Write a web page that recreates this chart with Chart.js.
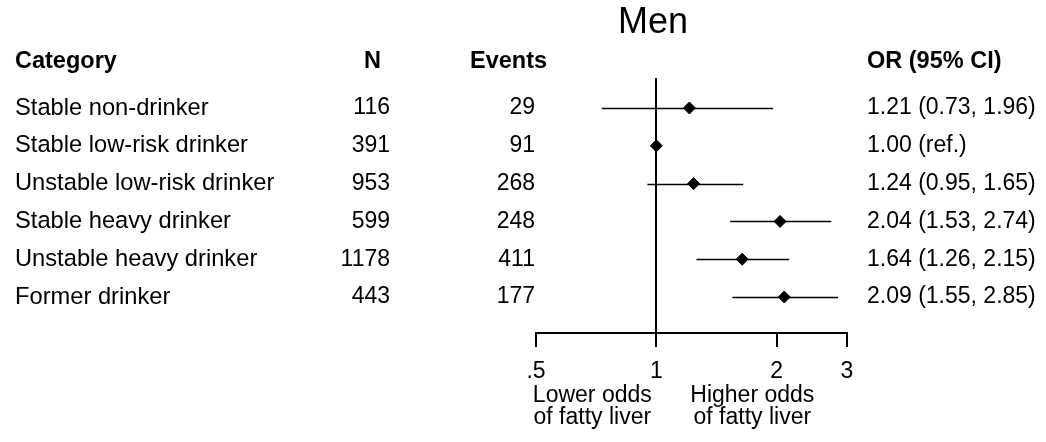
<!DOCTYPE html>
<html>
<head>
<meta charset="utf-8">
<script src="https://cdn.jsdelivr.net/npm/chart.js@4.4.0/dist/chart.umd.min.js"></script>
<style>
  html, body { margin: 0; padding: 0; background: #fff; }
  #wrap { width: 1046px; height: 442px; position: relative; }
</style>
</head>
<body>
<div id="wrap"><canvas id="myChart"></canvas></div>
<script>

const categories = [
  'Stable non-drinker',
  'Stable low-risk drinker',
  'Unstable low-risk drinker',
  'Stable heavy drinker',
  'Unstable heavy drinker',
  'Former drinker',
];
const nCounts = [116, 391, 953, 599, 1178, 443];
const events = [29, 91, 268, 248, 411, 177];
const oddsRatios = [1.21, 1.00, 1.24, 2.04, 1.64, 2.09];
const ciLower = [0.73, null, 0.95, 1.53, 1.26, 1.55];
const ciUpper = [1.96, null, 1.65, 2.74, 2.15, 2.85];
const xTicks = [0.5, 1, 2, 3];
const headers = ['Category', 'N', 'Events', 'OR (95% CI)'];
const chartTitle = 'Men';
const lowerNote = ['Lower odds', 'of fatty liver'];
const higherNote = ['Higher odds', 'of fatty liver'];

const FONT = '"Liberation Sans", Arial, Helvetica, sans-serif';

function orText(i) {
  if (ciLower[i] == null) return oddsRatios[i].toFixed(2) + ' (ref.)';
  return oddsRatios[i].toFixed(2) + ' (' + ciLower[i].toFixed(2) + ', ' + ciUpper[i].toFixed(2) + ')';
}

// whiskers + table columns, drawn with the chart's own scales
const forestPlugin = {
  id: 'forestPlugin',
  beforeDatasetsDraw(chart) {
    const {ctx, scales: {x, y}} = chart;
    ctx.save();
    ctx.strokeStyle = '#000';
    ctx.lineWidth = 1.6;
    oddsRatios.forEach((v, i) => {
      if (ciLower[i] == null) return;
      const py = Math.round(y.getPixelForValue(i + 1)) + 0.5;
      ctx.beginPath();
      ctx.moveTo(x.getPixelForValue(ciLower[i]), py);
      ctx.lineTo(x.getPixelForValue(ciUpper[i]), py);
      ctx.stroke();
    });
    ctx.restore();
  },
  afterDraw(chart) {
    const {ctx, scales: {x, y}} = chart;
    ctx.save();
    ctx.fillStyle = '#000';
    ctx.textBaseline = 'middle';

    // title
    ctx.font = '36px ' + FONT;
    ctx.textAlign = 'center';
    ctx.fillText(chartTitle, 653, 23);

    // header row
    const hy = 62;
    ctx.font = 'bold 23.5px ' + FONT;
    ctx.textAlign = 'left';
    ctx.fillText(headers[0], 15, hy);
    ctx.textAlign = 'right';
    ctx.fillText(headers[1], 381, hy);
    ctx.textAlign = 'left';
    ctx.fillText(headers[2], 470, hy);
    ctx.fillText(headers[3], 867, hy);

    // rows
    ctx.font = '23px ' + FONT;
    categories.forEach((c, i) => {
      const py = y.getPixelForValue(i + 1);
      ctx.textAlign = 'right';
      ctx.fillText(String(nCounts[i]), 390, py);
      ctx.fillText(String(events[i]), 535, py);
      ctx.textAlign = 'left';
      ctx.fillText(orText(i), 867, py);
    });

    // notes under the axis
    const x1 = x.getPixelForValue(1);
    ctx.textAlign = 'center';
    ctx.fillText(lowerNote[0], x1 - 64, 396);
    ctx.fillText(lowerNote[1], x1 - 64, 418);
    ctx.fillText(higherNote[0], x1 + 96, 396);
    ctx.fillText(higherNote[1], x1 + 96, 418);
    ctx.restore();
  }
};

const data = {
  datasets: [{
    label: 'OR',
    data: oddsRatios.map((v, i) => ({x: v, y: i + 1})),
    pointStyle: 'rectRot',
    pointRadius: 6,
    pointHoverRadius: 6,
    backgroundColor: '#000',
    borderColor: '#000',
    borderWidth: 1,
    showLine: false,
  }]
};

const config = {
  type: 'scatter',
  data: data,
  options: {
    responsive: true,
    maintainAspectRatio: false,
    animation: false,
    events: [],
    layout: { padding: { left: 15, right: 199, top: 78, bottom: 0 } },
    plugins: {
      legend: { display: false },
      tooltip: { enabled: false },
      title: { display: false },
    },
    scales: {
      x: {
        type: 'logarithmic',
        position: 'bottom',
        min: 0.5,
        max: 3,
        afterBuildTicks: (scale) => { scale.ticks = xTicks.map(v => ({value: v})); },
        afterFit: (scale) => { scale.height = 109; },
        border: { display: true, color: '#000', width: 2 },
        grid: {
          drawOnChartArea: true,
          drawTicks: true,
          tickLength: 14,
          tickWidth: 2,
          tickColor: '#000',
          lineWidth: 2,
          color: (c) => (c.tick && c.tick.value === 1) ? '#000' : 'rgba(0,0,0,0)',
        },
        ticks: {
          autoSkip: false,
          maxRotation: 0,
          padding: 11,
          color: '#000',
          font: { family: FONT, size: 23 },
          callback: (v) => v === 0.5 ? '.5' : String(v),
        },
      },
      y: {
        type: 'linear',
        reverse: true,
        min: 0.206,
        max: 6.952,
        afterBuildTicks: (scale) => { scale.ticks = categories.map((c, i) => ({value: i + 1})); },
        afterFit: (scale) => { scale.width = 521; },
        border: { display: false },
        grid: { display: false },
        ticks: {
          autoSkip: false,
          crossAlign: 'far',
          padding: 0,
          color: '#000',
          font: { family: FONT, size: 23.7 },
          callback: (v) => categories[v - 1],
        },
      },
    },
  },
  plugins: [forestPlugin],
};

const myChart = new Chart(
  document.getElementById('myChart'),
  config
);
</script>
</body>
</html>
